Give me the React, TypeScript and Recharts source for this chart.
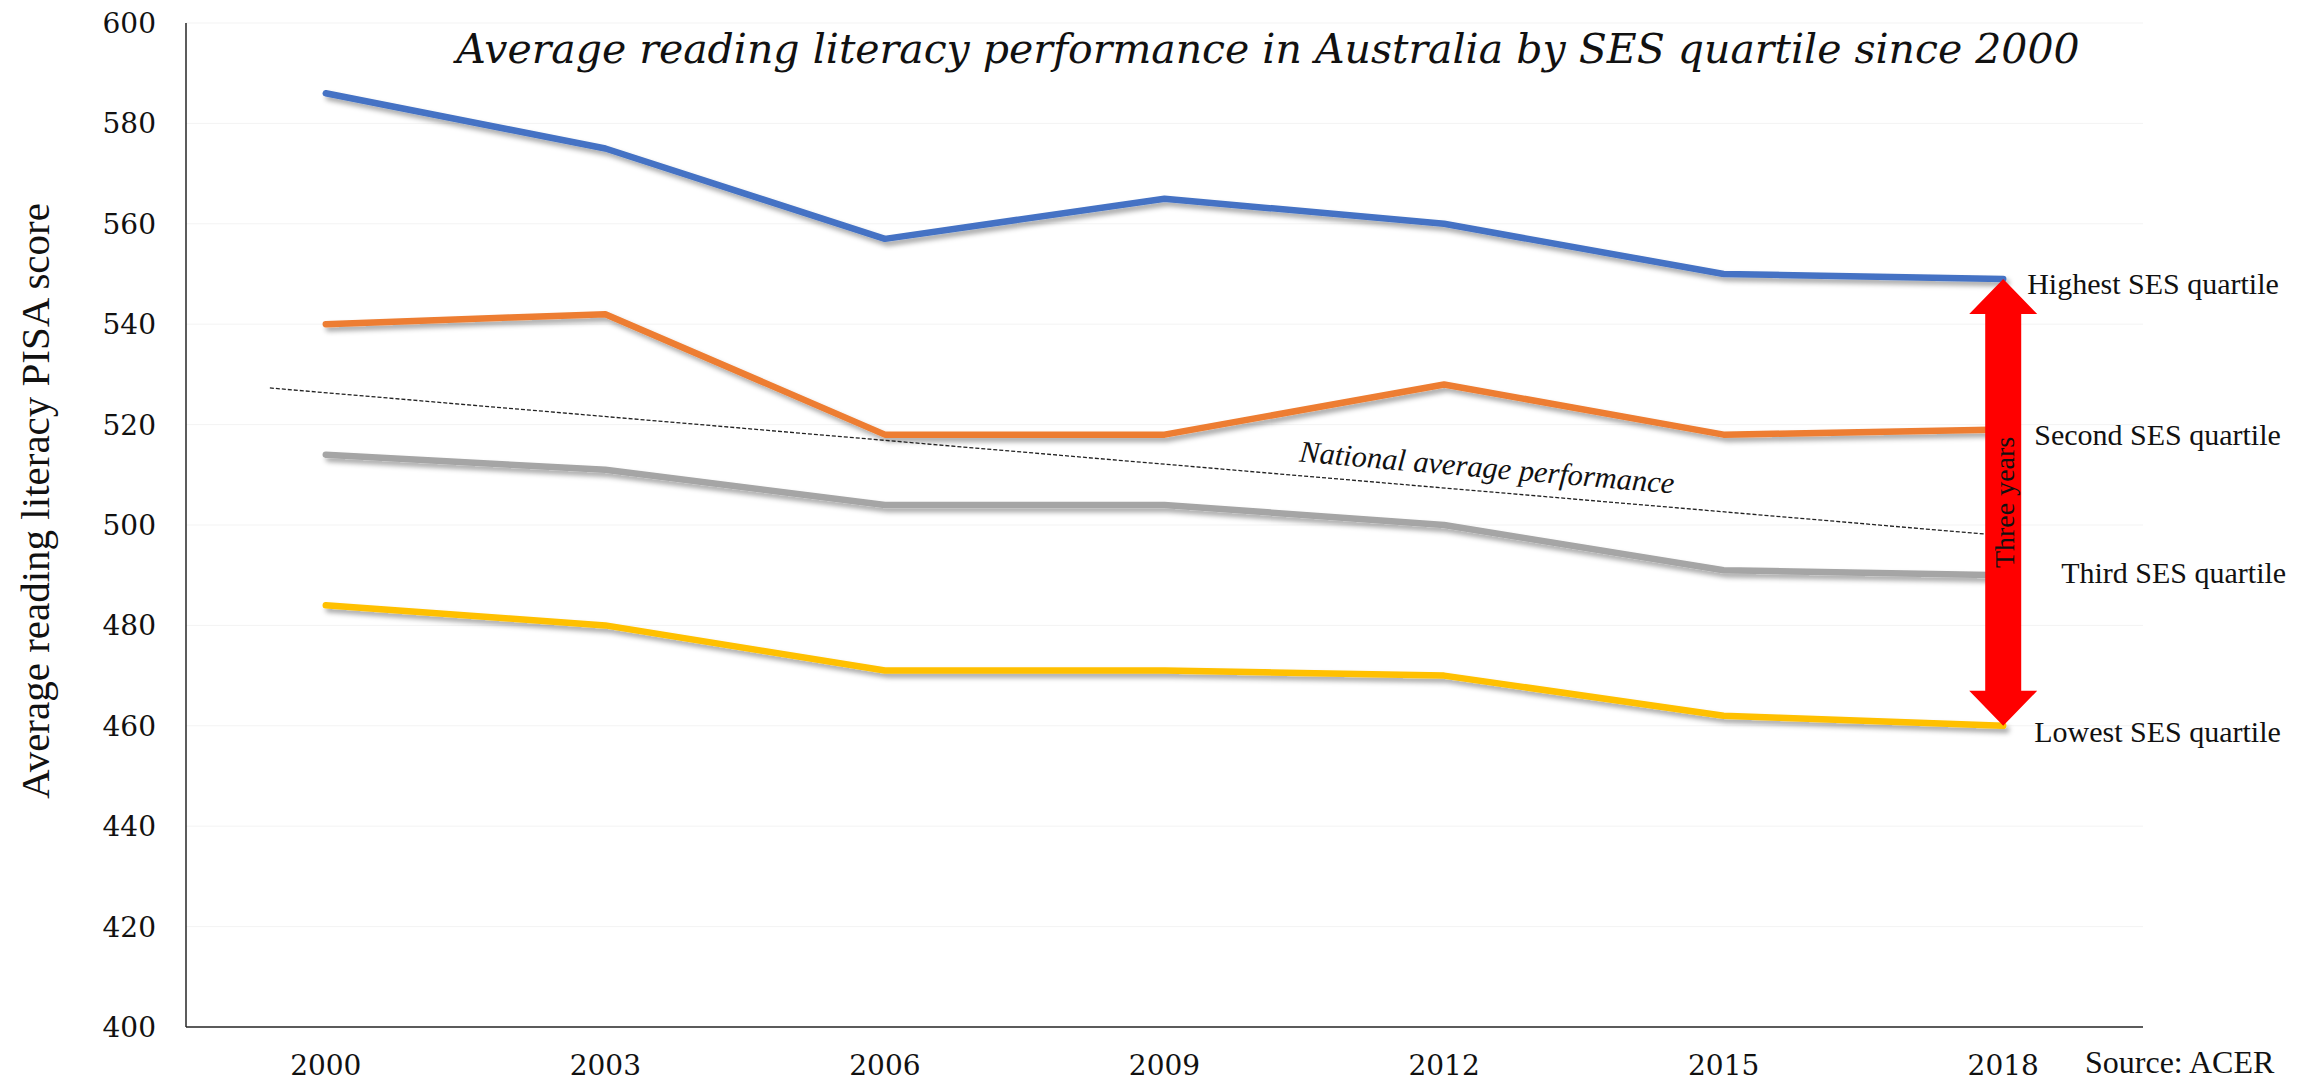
import React from "react";
import { LineChart, Line, XAxis, YAxis, CartesianGrid, ReferenceLine, LabelList } from "recharts";

// PISA reading scores by SES quartile
const years = [2000, 2003, 2006, 2009, 2012, 2015, 2018];
const highestSes = [586, 575, 557, 565, 560, 550, 549];
const secondSes = [540, 542, 518, 518, 528, 518, 519];
const thirdSes = [514, 511, 504, 504, 500, 491, 490];
const lowestSes = [484, 480, 471, 471, 470, 462, 460];
const scoreTicks = [400, 420, 440, 460, 480, 500, 520, 540, 560, 580, 600];

// dotted national-average trend, read at its two ends
const nationalTrendYears = [1999.4, 2017.8];
const nationalTrendScores = [527.3, 498.2];

const serif = "'Liberation Serif', serif";
const wideSerif = "'DejaVu Serif', serif";

const series = [
  { key: "highest", name: "Highest SES quartile", color: "#4472C4", values: highestSes, dx: 24, dy: 15 },
  { key: "second", name: "Second SES quartile", color: "#ED7D31", values: secondSes, dx: 31, dy: 15 },
  { key: "third", name: "Third SES quartile", color: "#A5A5A5", values: thirdSes, dx: 58, dy: 8 },
  { key: "lowest", name: "Lowest SES quartile", color: "#FFC000", values: lowestSes, dx: 31, dy: 16 },
];

const data = years.map((year, i) => {
  const row: Record<string, number> = { year };
  series.forEach((s) => (row[s.key] = s.values[i]));
  return row;
});

const last = years.length - 1;

const TrendShape = (p: any) => {
  const { x1, y1, x2, y2 } = p;
  const angle = (Math.atan2(y2 - y1, x2 - x1) * 180) / Math.PI;
  const t = 0.6;
  const tx = x1 + t * (x2 - x1);
  const ty = y1 + t * (y2 - y1) - 14;
  return (
    <g>
      <line x1={x1} y1={y1} x2={x2} y2={y2} stroke="#222" strokeWidth={1.3} strokeDasharray="4 2" />
      <text x={tx} y={ty} transform={`rotate(${angle} ${tx} ${ty})`} fontFamily={serif} fontStyle="italic" fontSize={30.5} fill="#111">
        National average performance
      </text>
    </g>
  );
};

const ArrowShape = (p: any) => {
  const { x1, y1, y2 } = p;
  const cx = x1;
  const top = Math.min(y1, y2);
  const bot = Math.max(y1, y2);
  const head = 35;
  const hw = 34;
  const sw = 18;
  const pts = [
    [cx, top], [cx + hw, top + head], [cx + sw, top + head], [cx + sw, bot - head], [cx + hw, bot - head],
    [cx, bot], [cx - hw, bot - head], [cx - sw, bot - head], [cx - sw, top + head], [cx - hw, top + head],
  ].map((q) => q.join(",")).join(" ");
  const my = (top + bot) / 2;
  return (
    <g>
      <polygon points={pts} fill="#FF0000" />
      <text x={cx + 1} y={my} transform={`rotate(-90 ${cx + 1} ${my})`} textAnchor="middle" dominantBaseline="central" fontFamily={serif} fontSize={28} fill="#111">
        Three years
      </text>
    </g>
  );
};

export default function App() {
  return (
    <div style={{ position: "absolute", left: 0, top: 0, width: 2318, height: 1085, overflow: "hidden", background: "#fff" }}>
      <LineChart width={2318} height={1100} data={data} margin={{ top: 23, right: 175, bottom: 13, left: 0 }}>
        <defs>
          <filter id="lineShadow" x="-5%" y="-20%" width="110%" height="140%">
            <feDropShadow dx="3" dy="4" stdDeviation="2.5" floodColor="#000" floodOpacity="0.35" />
          </filter>
        </defs>
        <CartesianGrid vertical={false} stroke="#f3f3f3" />
        <XAxis
          type="number"
          dataKey="year"
          domain={[1998.5, 2019.5]}
          ticks={years}
          interval={0}
          height={60}
          tickLine={false}
          tickSize={0}
          tickMargin={28}
          axisLine={{ stroke: "#262626", strokeWidth: 1.5 }}
          tick={{ fill: "#111", fontSize: 28, fontFamily: wideSerif }}
        />
        <YAxis
          type="number"
          domain={[400, 600]}
          ticks={scoreTicks}
          width={186}
          tickLine={false}
          tickSize={0}
          tickMargin={30}
          axisLine={{ stroke: "#262626", strokeWidth: 1.5 }}
          tick={{ fill: "#111", fontSize: 28, fontFamily: wideSerif }}
        />
        {series.map((s) => (
          <Line
            key={s.key}
            type="linear"
            dataKey={s.key}
            name={s.name}
            stroke={s.color}
            strokeWidth={6.5}
            strokeLinecap="round"
            strokeLinejoin="round"
            dot={false}
            filter="url(#lineShadow)"
            isAnimationActive={false}
          >
            <LabelList
              dataKey={s.key}
              content={(lp: any) =>
                lp.index === last ? (
                  <text x={Number(lp.x) + s.dx} y={Number(lp.y) + s.dy} fontFamily={serif} fontSize={30} fill="#111">
                    {s.name}
                  </text>
                ) : null
              }
            />
          </Line>
        ))}
        <ReferenceLine
          segment={[
            { x: nationalTrendYears[0], y: nationalTrendScores[0] },
            { x: nationalTrendYears[1], y: nationalTrendScores[1] },
          ]}
          shape={TrendShape}
        />
        <ReferenceLine
          segment={[
            { x: years[last], y: highestSes[last] },
            { x: years[last], y: lowestSes[last] },
          ]}
          shape={ArrowShape}
        />
      </LineChart>
      <svg width={2318} height={1085} style={{ position: "absolute", left: 0, top: 0, pointerEvents: "none" }}>
        <text x={1268} y={63} textAnchor="middle" fontFamily={wideSerif} fontStyle="italic" fontSize={41} fill="#111">
          Average reading literacy performance in Australia by SES quartile since 2000
        </text>
        <text x={35} y={501} transform="rotate(-90 35 501)" textAnchor="middle" dominantBaseline="central" fontFamily={serif} fontSize={41} fill="#111">
          Average reading literacy PISA score
        </text>
        <text x={2085} y={1073} fontFamily={serif} fontSize={32} fill="#111">
          Source: ACER
        </text>
      </svg>
    </div>
  );
}
